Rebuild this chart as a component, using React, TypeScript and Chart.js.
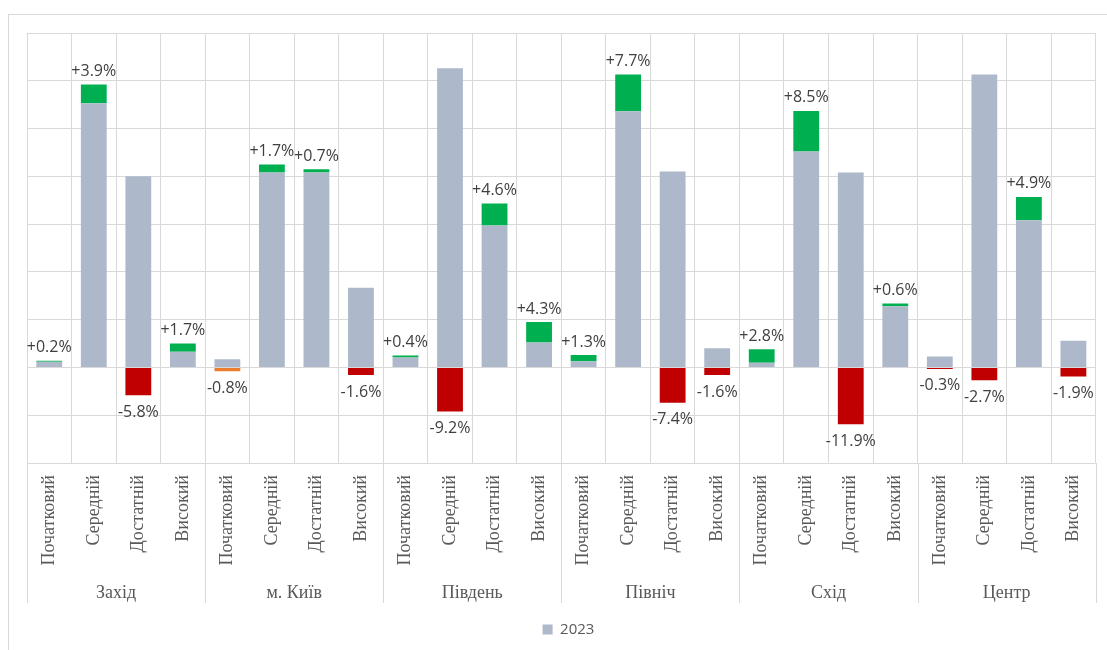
import React, { useEffect, useRef } from 'react';
import { Chart, registerables } from 'chart.js';

Chart.register(...registerables);

const regions = ['Захід', 'м. Київ', 'Південь', 'Північ', 'Схід', 'Центр'];
const levels = ['Початковий', 'Середній', 'Достатній', 'Високий'];

// 2023 shares, %, in order region × level
const values2023 = [
  1.2, 55.3, 40.0, 3.3,
  1.7, 40.8, 40.8, 16.7,
  2.1, 62.6, 29.7, 5.2,
  1.3, 53.6, 41.0, 4.0,
  1.0, 45.2, 40.8, 12.8,
  2.3, 61.3, 30.8, 5.6,
];

// change vs previous year, percentage points
const changes = [
  0.2, 3.9, -5.8, 1.7,
  -0.8, 1.7, 0.7, -1.6,
  0.4, -9.2, 4.6, 4.3,
  1.3, 7.7, -7.4, -1.6,
  2.8, 8.5, -11.9, 0.6,
  -0.3, -2.7, 4.9, -1.9,
];

const GREEN = '#00B050';
const RED = '#C00000';
const ORANGE = '#ED7D31';
const GRAY = '#ADB9CA';
const GRID = '#D9D9D9';

const changeColors = [
  GREEN, GREEN, RED, GREEN,
  ORANGE, GREEN, GREEN, RED,
  GREEN, RED, GREEN, GREEN,
  GREEN, GREEN, RED, RED,
  GREEN, GREEN, RED, GREEN,
  RED, RED, GREEN, RED,
];

const tickLabels = regions.flatMap(() => levels);

const SERIF = "'Liberation Serif', 'Times New Roman', serif";
const SANS = "'Open Sans', 'Noto Sans', sans-serif";
const AXIS_HEIGHT = 140;

const decorPlugin = {
  id: 'decor',
  beforeDraw(chart: any) {
    const ctx = chart.ctx;
    ctx.save();
    ctx.strokeStyle = GRID;
    ctx.lineWidth = 1;
    ctx.strokeRect(8.5, 14.5, 1300, 1000);
    ctx.restore();
  },
  afterDatasetsDraw(chart: any) {
    const ctx = chart.ctx;
    const meta = chart.getDatasetMeta(1);
    ctx.save();
    ctx.font = `16px ${SANS}`;
    ctx.fillStyle = '#404040';
    ctx.textAlign = 'center';
    ctx.textBaseline = 'middle';
    meta.data.forEach((bar: any, i: number) => {
      const v = changes[i];
      const txt = (v > 0 ? '+' : '') + v.toFixed(1) + '%';
      const y = v >= 0 ? bar.y - 13 : bar.y + 17;
      ctx.fillText(txt, bar.x, y);
    });
    ctx.restore();
  },
  afterDraw(chart: any) {
    const { ctx, chartArea } = chart;
    const x = chart.scales.x;
    const half = (x.getPixelForValue(1) - x.getPixelForValue(0)) / 2;
    const n = levels.length;
    ctx.save();
    ctx.strokeStyle = GRID;
    ctx.lineWidth = 1;
    const top = chartArea.bottom;
    for (let g = 0; g <= regions.length; g++) {
      const px = g < regions.length
        ? x.getPixelForValue(g * n) - half
        : x.getPixelForValue(g * n - 1) + half;
      const ax = Math.round(px) + 0.5;
      ctx.beginPath();
      ctx.moveTo(ax, top);
      ctx.lineTo(ax, top + AXIS_HEIGHT);
      ctx.stroke();
    }
    ctx.font = `18px ${SERIF}`;
    ctx.fillStyle = '#595959';
    ctx.textAlign = 'center';
    ctx.textBaseline = 'middle';
    regions.forEach((r, g) => {
      const cx = (x.getPixelForValue(g * n) + x.getPixelForValue(g * n + n - 1)) / 2;
      ctx.fillText(r, cx, top + 130);
    });
    ctx.restore();
  },
};

export default function App() {
  const ref = useRef<HTMLCanvasElement>(null);
  useEffect(() => {
    if (!ref.current) return;
    const chart = new Chart(ref.current, {
      type: 'bar',
      data: {
        labels: tickLabels,
        datasets: [
          {
            label: '2023',
            data: values2023,
            backgroundColor: GRAY,
            barPercentage: 0.58,
            categoryPercentage: 1,
            stack: 's',
          },
          {
            label: 'change',
            data: changes,
            backgroundColor: changeColors,
            barPercentage: 0.58,
            categoryPercentage: 1,
            stack: 's',
          },
        ],
      },
      options: {
        animation: false,
        responsive: true,
        maintainAspectRatio: false,
        layout: { padding: { left: 27, right: -3, top: 33, bottom: 3 } },
        scales: {
          x: {
            stacked: true,
            grid: { color: GRID, lineWidth: 1, drawTicks: false, offset: true },
            border: { display: false },
            ticks: {
              autoSkip: false,
              maxRotation: 90,
              minRotation: 90,
              padding: 12,
              color: '#595959',
              font: { family: SERIF, size: 18 },
            },
            afterFit(scale: any) {
              scale.height = 149;
            },
          },
          y: {
            stacked: true,
            min: -20,
            max: 70,
            ticks: { display: false, stepSize: 10 },
            grid: { color: GRID, lineWidth: 1, drawTicks: false },
            border: { display: false },
          },
        },
        plugins: {
          legend: {
            position: 'bottom',
            labels: {
              filter: (item: any) => item.datasetIndex === 0,
              boxWidth: 10,
              boxHeight: 10,
              padding: 10,
              color: '#595959',
              font: { family: SANS, size: 15 },
            },
          },
          tooltip: { enabled: false },
        },
      },
      plugins: [decorPlugin],
    });
    return () => chart.destroy();
  }, []);
  return (
    <div style={{ position: 'fixed', left: 0, top: 0, width: 1107, height: 650, background: '#fff' }}>
      <canvas ref={ref} />
    </div>
  );
}
